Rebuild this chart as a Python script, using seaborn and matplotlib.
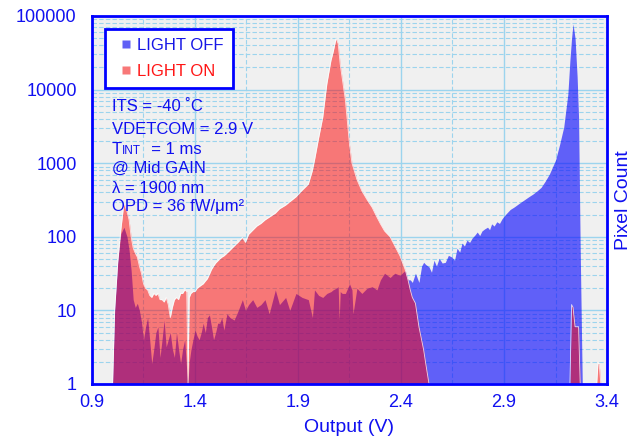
import matplotlib
matplotlib.use("Agg")
import numpy as np
import pandas as pd
import seaborn as sns
import matplotlib.pyplot as plt
from matplotlib.ticker import FixedLocator, LogLocator, NullFormatter
from matplotlib.lines import Line2D
from matplotlib.transforms import offset_copy

# Output voltage bins (V) and pixel counts
volts = [1.000, 1.010, 1.025, 1.040, 1.055, 1.070, 1.080, 1.090, 1.100, 1.110,
         1.120, 1.130, 1.140, 1.150, 1.160, 1.170, 1.180, 1.190, 1.200, 1.210,
         1.220, 1.230, 1.240, 1.250, 1.260, 1.270, 1.280, 1.290, 1.300, 1.310,
         1.320, 1.330, 1.340, 1.350, 1.360, 1.366, 1.372, 1.380, 1.390, 1.400,
         1.410, 1.420, 1.430, 1.440, 1.450, 1.460, 1.470, 1.480, 1.490, 1.500,
         1.510, 1.520, 1.530, 1.540, 1.555, 1.570, 1.590, 1.610, 1.630, 1.645,
         1.660, 1.680, 1.700, 1.720, 1.740, 1.760, 1.790, 1.810, 1.840, 1.860,
         1.890, 1.920, 1.950, 1.970, 1.980, 2.000, 2.020, 2.040, 2.060, 2.070,
         2.085, 2.095, 2.100, 2.105, 2.115, 2.130, 2.150, 2.162, 2.167, 2.186,
         2.210, 2.235, 2.260, 2.283, 2.300, 2.320, 2.347, 2.370, 2.395, 2.420,
         2.434, 2.445, 2.455, 2.470, 2.487, 2.500, 2.510, 2.520,
         2.536, 2.548, 2.560, 2.572, 2.585, 2.600, 2.615, 2.630, 2.647, 2.660,
         2.672, 2.685, 2.696, 2.708, 2.720, 2.733, 2.745, 2.758, 2.770, 2.782,
         2.793, 2.806, 2.820, 2.830, 2.840, 2.852, 2.865, 2.878, 2.890, 2.900,
         2.910, 2.930, 2.950, 2.970, 3.000, 3.020, 3.040, 3.060, 3.080, 3.100,
         3.120, 3.150, 3.170, 3.190, 3.210, 3.220, 3.228, 3.235, 3.245, 3.255,
         3.262, 3.270, 3.280, 3.350, 3.356, 3.362, 3.370]

light_on = [1, 10, 45, 125, 290, 220, 170, 100, 70, 60,
            53, 40, 32, 23, 20, 19, 16, 15, 17, 16,
            17, 14, 14, 13, 15, 12, 8, 11, 14, 15,
            14, 17, 17, 19, 18, 1, 15, 17, 18, 18,
            20, 21, 22, 23, 25, 27, 31, 36, 40, 44,
            47, 50, 53, 55, 60, 66, 75, 85, 98, 84,
            108, 123, 140, 152, 170, 185, 210, 240, 270, 300,
            350, 430, 520, 800, 1100, 2200, 4200, 12000, 25000, 32000,
            50000, 42000, 30000, 22000, 14000, 7200, 1800, 1000, 900, 600,
            420, 320, 250, 185, 150, 120, 100, 75, 55, 36,
            26, 19, 15, 12.5, 6, 4, 2.9, 1.9,
            1, 1, 1, 1, 1, 1, 1, 1, 1, 1,
            1, 1, 1, 1, 1, 1, 1, 1, 1, 1,
            1, 1, 1, 1, 1, 1, 1, 1, 1, 1,
            1, 1, 1, 1, 1, 1, 1, 1, 1, 1,
            1, 1, 1, 1, 1, 1, 12, 11, 6, 6,
            6, 1, 1, 1, 1.9, 1.9, 1]

light_off = [1, 10, 45, 110, 135, 100, 66, 35, 14, 11,
             12.5, 10, 7, 4, 6, 8, 4, 1.9, 3, 5,
             6, 2.3, 4, 7.4, 3.2, 4, 5, 3, 2.3, 5,
             3, 1.9, 3, 4, 1.5, 1, 2, 2.9, 4, 5.4,
             4.5, 4, 5, 6.7, 5, 8, 8.7, 6, 4, 5,
             6.7, 6.7, 8, 5.4, 9, 8, 7.4, 10, 14, 10,
             12, 14, 11, 12, 14, 9, 19, 12, 15, 10,
             17, 15, 14, 8, 19, 16, 15, 17, 18, 19,
             20, 21, 7.4, 18, 17, 17, 23, 19, 9, 20,
             17, 20, 21, 19, 26, 32, 28, 32, 30, 35,
             26, 26, 24, 32, 24, 40, 45, 42,
             39, 33, 48, 40, 51, 44, 45, 56, 53, 48,
             70, 62, 82, 75, 90, 84, 96, 105, 116, 104,
             120, 128, 135, 125, 150, 140, 160, 152, 175, 190,
             205, 235, 255, 280, 320, 350, 380, 420, 470, 570,
             710, 1100, 1800, 3100, 8700, 25000, 50000, 78000, 50000, 15000,
             4200, 66, 1, 1, 1, 1, 1]

x_ticks = [0.9, 1.4, 1.9, 2.4, 2.9, 3.4]
x_minor = [1.15, 1.65, 2.15, 2.65, 3.15]
y_ticks = [1, 10, 100, 1000, 10000, 100000]

notes = ["ITS = -40 \u02daC", "VDETCOM = 2.9 V", None,
         "@ Mid GAIN", "\u03bb = 1900 nm", "OPD = 36 fW/\u03bcm\u00b2"]
note_rows = [111, 134, 154, 173, 193, 211]  # baselines, px from top

df = pd.DataFrame({"volts": volts, "on": light_on, "off": light_off})

sns.set_style("ticks", {"axes.facecolor": "#f0f0f0"})
plt.rcParams["font.family"] = ["Liberation Sans", "DejaVu Sans"]

W, H = 638, 446
fig = plt.figure(figsize=(W / 100, H / 100), dpi=100)
ax = fig.add_axes([92 / W, 1 - 384 / H, (607 - 92) / W, (384 - 16) / H])

ax.fill_between(df["volts"], 1, df["off"], facecolor=(0, 0, 1, 0.6), lw=0, zorder=2)
ax.fill_between(df["volts"], 1, df["on"], facecolor=(1, 0, 0, 0.5), lw=0, zorder=3)
sns.lineplot(data=df, x="volts", y="on", color="white", lw=0.6, alpha=0.8,
             estimator=None, sort=False, ax=ax, zorder=4)

ax.set_yscale("log")
ax.set_xlim(0.9, 3.4)
ax.set_ylim(1, 100000)
ax.xaxis.set_major_locator(FixedLocator(x_ticks))
ax.set_xticklabels([f"{v:.1f}" for v in x_ticks])
ax.xaxis.set_minor_locator(FixedLocator(x_minor))
ax.yaxis.set_major_locator(FixedLocator(y_ticks))
ax.set_yticklabels([str(v) for v in y_ticks])
ax.yaxis.set_minor_locator(LogLocator(base=10, subs=range(2, 10)))
ax.yaxis.set_minor_formatter(NullFormatter())

grid_c = "#9cd4ee"
ax.grid(which="major", color=grid_c, lw=1.0, ls="-")
ax.grid(which="minor", color=grid_c, lw=0.8, ls=(0, (4, 2)))
ax.set_axisbelow(True)

ax.tick_params(which="both", length=0, colors="#1010f0", labelsize=13)
ax.tick_params(axis="x", pad=7)
ax.tick_params(axis="y", pad=11)
for s in ax.spines.values():
    s.set_color("#0000ff")
    s.set_linewidth(2)
    s.set_zorder(6)

ax.set_xlabel("Output (V)", fontsize=14, color="#1010f0", labelpad=6)
ax.set_ylabel("Pixel Count", fontsize=14, color="#1010f0", labelpad=6)
ax.yaxis.set_label_position("right")

handles = [Line2D([], [], marker="s", ls="none", ms=5.5, mfc="#6060f5", mec="none"),
           Line2D([], [], marker="s", ls="none", ms=5.5, mfc="#f87878", mec="none")]
leg = ax.legend(handles, ["LIGHT OFF", "LIGHT ON"], loc="upper left",
                bbox_to_anchor=(0.025, 0.965), borderaxespad=0, fancybox=False,
                framealpha=1, facecolor="white", edgecolor="#0000ff",
                prop={"size": 12}, labelcolor=["#1515e6", "#ff1515"],
                labelspacing=0.65, borderpad=0.55, handlelength=1.4, handletextpad=0.0)
leg.get_frame().set_linewidth(2)
leg.set_zorder(7)

x0 = 112 / W
for txt, row in zip(notes, note_rows):
    y = 1 - row / H
    if txt is not None:
        fig.text(x0, y, txt, fontsize=12, color="#1010f0", va="baseline", zorder=8)
    else:
        fig.text(x0, y, "T", fontsize=12, color="#1010f0", va="baseline", zorder=8)
        tr = offset_copy(fig.transFigure, fig=fig, x=7.4, y=0, units="points")
        fig.text(x0, y, "INT", fontsize=8.5, color="#1010f0", va="baseline",
                 transform=tr, zorder=8)
        tr2 = offset_copy(fig.transFigure, fig=fig, x=21.3, y=0, units="points")
        fig.text(x0, y, "  = 1 ms", fontsize=12, color="#1010f0", va="baseline",
                 transform=tr2, zorder=8)

fig.savefig("out.png", dpi=100)
